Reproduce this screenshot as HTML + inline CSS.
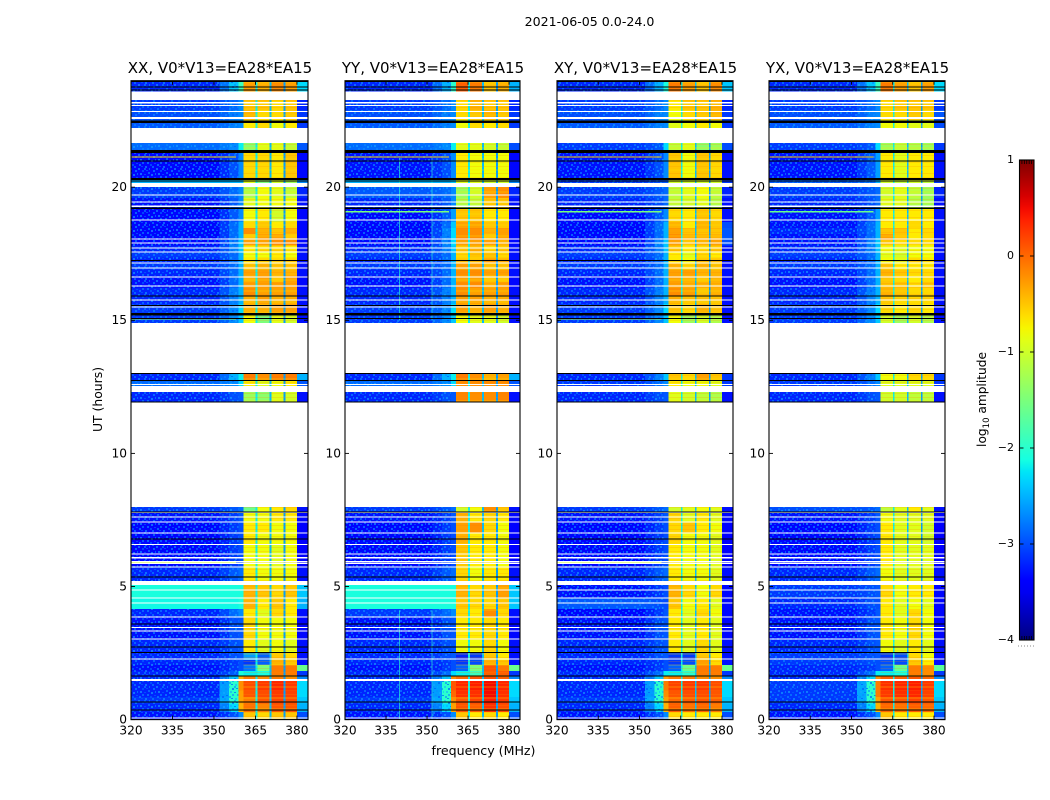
<!DOCTYPE html>
<html lang="en">
<head>
<meta charset="utf-8">
<title>2021-06-05 0.0-24.0</title>
<style>
html,body{margin:0;padding:0;background:#fff;width:1050px;height:800px;overflow:hidden}
svg{display:block}
text{font-family:"DejaVu Sans","Liberation Sans",sans-serif;fill:#000}
</style>
</head>
<body>
<svg id="figure" xmlns="http://www.w3.org/2000/svg" width="1050" height="800" viewBox="0 0 1050 800">
<defs>
<pattern id="speckle" patternUnits="userSpaceOnUse" width="18" height="14">
<rect x="0" y="0" width="2" height="2" fill="#0a8cff" opacity=".6"/><rect x="5" y="0" width="1" height="2" fill="#00b4ff" opacity=".5"/>
<rect x="12" y="0" width="2" height="2" fill="#18a8ff" opacity=".55"/><rect x="2" y="2" width="2" height="1" fill="#0060ff" opacity=".7"/>
<rect x="9" y="2" width="2" height="2" fill="#0a8cff" opacity=".65"/><rect x="16" y="2" width="2" height="2" fill="#0060ff" opacity=".7"/>
<rect x="4" y="4" width="2" height="2" fill="#0a8cff" opacity=".6"/><rect x="11" y="5" width="1" height="2" fill="#00b4ff" opacity=".5"/>
<rect x="14" y="5" width="2" height="2" fill="#18a8ff" opacity=".6"/><rect x="0" y="6" width="2" height="1" fill="#0060ff" opacity=".7"/>
<rect x="7" y="6" width="2" height="2" fill="#18a8ff" opacity=".6"/><rect x="3" y="8" width="2" height="2" fill="#0a8cff" opacity=".65"/>
<rect x="10" y="9" width="2" height="1" fill="#0060ff" opacity=".7"/><rect x="16" y="8" width="2" height="2" fill="#0a8cff" opacity=".6"/>
<rect x="6" y="10" width="2" height="2" fill="#0060ff" opacity=".7"/><rect x="13" y="10" width="2" height="2" fill="#0a8cff" opacity=".65"/>
<rect x="1" y="12" width="2" height="2" fill="#18a8ff" opacity=".55"/><rect x="8" y="12" width="2" height="2" fill="#0a8cff" opacity=".6"/>
<rect x="15" y="12" width="2" height="1" fill="#0060ff" opacity=".7"/>
</pattern>
<pattern id="band-stripes" patternUnits="userSpaceOnUse" width="4" height="11">
<rect x="0" y="1" width="4" height="1" fill="#ff8c00" opacity=".22"/><rect x="0" y="4" width="4" height="2" fill="#ffe600" opacity=".2"/>
<rect x="0" y="8" width="4" height="1" fill="#ff7800" opacity=".2"/>
</pattern>
<linearGradient id="jet-gradient" x1="0" y1="1" x2="0" y2="0"></linearGradient>
</defs>
<text x="589.5" y="26" font-size="12.6" text-anchor="middle">2021-06-05 0.0-24.0</text>
<text x="483.5" y="755" font-size="12.6" text-anchor="middle">frequency (MHz)</text>
<text transform="translate(102,399.5) rotate(-90)" font-size="12.4" text-anchor="middle">UT (hours)</text>
<text transform="translate(986,399.5) rotate(-90)" font-size="12.2" text-anchor="middle">log<tspan font-size="8.5" dy="3">10</tspan><tspan dy="-3"> amplitude</tspan></text>
</svg>
<script>
// UT hour boundaries of the recorded rows, top of plot to bottom
const rowEdges = [24,23.6,22.9,22.52,22.22,21.4,20.34,20,19.6,19.18,18.69,18.47,18.24,18.02,17.8,17.57,17.35,17.13,16.9,16.68,16.44,16.21,15.91,15.61,15.27,14.9,13.02,12.72,12.31,11.93,7.99,7.8,7.42,7.01,6.6,5.73,5.2,4.57,4.15,3.85,3.03,2.54,2.24,2.05,1.83,1.64,1.45,1.1,0.85,0.6,0.28,0];
// Per-row log10 amplitude: [background, ramp, edge, bandA, bandB, bandC, bandD, right]; null = no data
const valuesXX = [
[-3.2,-2.4,-1.9,-0.3,-0.4,-0.2,-0.3,-2.3],[-3.1,-2.85,-2.7,-0.5,-0.5,-0.6,-0.5,-3.2],[-3.0,-2.75,-2.7,-0.4,-0.6,-0.6,-0.5,-3.1],[-2.95,-2.75,-2.7,-0.7,-0.6,-0.8,-0.7,-3.1],
[-2.85,-2.7,-2.2,-1.4,-0.9,-0.9,-1.1,-2.95],[-3.35,-3.0,-2.7,-0.6,-0.6,-0.7,-0.5,-3.35],[-2.5,-2.5,-2.5,-0.9,-1.5,-1.0,-1.3,-2.7],[-3.1,-2.85,-2.7,-1.2,-0.8,-0.9,-1.1,-3.2],
[-3.3,-2.95,-2.7,-0.9,-0.8,-0.8,-0.8,-3.3],[-3.35,-2.95,-2.7,-0.8,-0.7,-1.0,-0.8,-3.35],[-3.35,-2.85,-2.5,-0.6,-0.5,-0.7,-0.6,-3.35],[-3.35,-2.85,-2.5,-0.2,-0.4,-0.5,-0.4,-3.35],
[-3.35,-2.85,-2.5,-0.5,-0.3,-0.3,-0.5,-3.35],[-3.35,-2.75,-2.4,-0.3,-0.3,-0.2,-0.2,-3.35],[-3.2,-2.75,-2.4,-0.7,-0.6,-0.6,-0.7,-3.3],[-3.1,-2.85,-2.5,-0.8,-0.8,-0.7,-0.8,-3.3],
[-3.2,-2.85,-2.5,-0.7,-0.6,-0.6,-0.6,-3.3],[-3.1,-2.85,-2.5,-0.5,-0.4,-0.5,-0.5,-3.3],[-3.2,-2.85,-2.5,-0.3,-0.3,-0.4,-0.4,-3.3],[-3.3,-2.85,-2.5,-0.4,-0.3,-0.5,-0.3,-3.35],
[-3.3,-2.85,-2.5,-0.3,-0.3,-0.3,-0.3,-3.35],[-3.2,-2.75,-2.5,-0.2,-0.3,-0.3,-0.3,-3.3],[-3.2,-2.75,-2.5,-0.4,-0.3,-0.4,-0.4,-3.3],[-3.1,-2.7,-2.3,-0.4,-0.4,-0.3,-0.3,-3.3],
[-3.1,-2.7,-2.4,-0.8,-1.5,-0.9,-1.0,-3.3],null,[-3.2,-2.5,-2.2,-0.1,-0.2,-0.1,-0.1,-2.5],[-2.85,-2.7,-2.3,-0.7,-0.9,-0.8,-0.7,-2.95],
[-3.2,-3.0,-2.95,-1.3,-1.4,-0.9,-1.0,-3.3],null,[-3.1,-2.95,-2.85,-1.6,-0.8,-0.7,-0.6,-3.3],[-3.3,-3.1,-2.95,-0.8,-0.8,-0.7,-0.7,-3.35],
[-3.35,-3.1,-3.0,-0.7,-0.7,-0.8,-0.8,-3.4],[-3.35,-3.1,-3.0,-0.7,-0.8,-0.8,-0.8,-3.4],[-3.35,-3.1,-3.0,-0.8,-0.8,-0.9,-0.8,-3.4],[-3.2,-2.95,-2.85,-0.7,-0.8,-0.8,-0.8,-3.3],
[-2.1,-2.1,-2.1,-0.4,-0.5,-0.6,-0.5,-2.4],[-2.15,-2.15,-2.1,-0.4,-0.7,-0.5,-0.7,-2.5],[-3.2,-2.85,-2.7,-0.7,-0.9,-0.6,-0.7,-3.3],[-3.3,-3.0,-2.95,-0.6,-0.8,-0.8,-0.8,-3.35],
[-3.2,-3.0,-2.95,-0.7,-0.9,-0.8,-0.9,-3.3],[-3.2,-3.0,-2.95,-2.6,-2.9,-0.5,-0.6,-3.3],[-3.2,-3.1,-3.0,-3.1,-2.9,-0.4,-0.5,-3.3],[-3.3,-3.1,-3.0,-2.8,-1.5,-0.1,-0.1,-1.6],
[-3.2,-2.95,-2.1,-2.2,-2.1,-0.1,-0.1,-3.1],[-3.2,-2.4,-0.4,-0.1,-0.2,-0.1,-0.2,-2.7],[-3.2,-2.0,-0.2,0.15,0.25,0.35,0.25,-2.3],[-3.2,-2.0,-0.3,0.1,0.15,0.25,0.2,-2.3],
[-3.1,-2.0,-0.3,-0.1,0.1,0.2,0.15,-2.4],[-3.2,-2.3,-0.4,-0.05,-0.15,0.1,0.1,-2.5],[-3.3,-3.0,-2.7,-0.5,-0.6,-0.5,-0.5,-3.0]
];
const valuesYY = [
[-3.2,-2.5,-2.0,0.05,-0.1,-0.5,-0.4,-2.5],[-3.1,-2.85,-2.7,-0.6,-0.4,-0.5,-0.5,-3.2],[-3.0,-2.75,-2.7,-0.6,-0.5,-0.4,-0.5,-3.1],[-2.95,-2.75,-2.7,-0.8,-0.6,-0.7,-0.6,-3.1],
[-2.85,-2.7,-2.2,-0.9,-0.9,-1.0,-1.1,-3.0],[-3.3,-3.0,-2.7,-0.7,-0.8,-0.8,-0.8,-3.35],[-2.5,-2.5,-2.4,-0.9,-0.9,-1.0,-1.0,-2.7],[-2.95,-2.85,-2.7,-1.3,-1.0,-0.3,-0.2,-3.2],
[-3.2,-2.95,-2.7,-1.2,-1.1,-0.5,-0.5,-3.3],[-3.35,-2.95,-2.6,-0.5,-0.5,-0.7,-0.7,-3.35],[-3.35,-2.85,-2.4,-0.3,-0.3,-0.5,-0.5,-3.35],[-3.35,-2.75,-2.3,-0.2,-0.2,-0.4,-0.3,-3.35],
[-3.35,-2.75,-2.3,-0.2,-0.2,-0.5,-0.3,-3.35],[-3.35,-2.75,-2.3,-0.3,-0.3,-0.3,-0.4,-3.35],[-3.2,-2.75,-2.4,-0.5,-0.4,-0.6,-0.5,-3.3],[-3.1,-2.85,-2.5,-0.6,-0.5,-0.5,-0.6,-3.3],
[-3.2,-2.85,-2.5,-0.5,-0.5,-0.3,-0.4,-3.3],[-3.1,-2.85,-2.5,-0.3,-0.3,-0.5,-0.5,-3.3],[-3.2,-2.85,-2.5,-0.2,-0.2,-0.3,-0.3,-3.3],[-3.3,-2.85,-2.5,-0.3,-0.3,-0.5,-0.5,-3.35],
[-3.3,-2.85,-2.5,-0.2,-0.2,-0.4,-0.3,-3.35],[-3.2,-2.75,-2.5,-0.2,-0.3,-0.3,-0.3,-3.3],[-3.2,-2.75,-2.5,-0.3,-0.3,-0.4,-0.4,-3.3],[-3.1,-2.7,-2.3,-0.3,-0.4,-0.3,-0.4,-3.3],
[-3.1,-2.7,-2.4,-0.8,-0.9,-0.9,-1.0,-3.3],null,[-3.2,-2.5,-2.2,-0.1,-0.2,-0.4,-0.3,-2.5],[-2.85,-2.7,-2.3,-0.2,-0.2,-0.2,-0.2,-2.95],
[-3.2,-3.0,-2.95,-0.15,-0.2,-0.2,-0.15,-3.3],null,[-3.1,-2.95,-2.85,-1.0,-0.8,-0.2,-0.5,-3.3],[-3.3,-3.1,-2.95,-0.4,-0.7,-0.6,-0.7,-3.35],
[-3.35,-3.1,-3.0,-0.3,-0.2,-0.6,-0.8,-3.4],[-3.35,-3.1,-3.0,-0.4,-0.7,-0.7,-0.8,-3.4],[-3.35,-3.1,-3.0,-0.5,-0.7,-0.7,-0.8,-3.4],[-3.2,-2.95,-2.85,-0.6,-0.8,-0.7,-0.7,-3.3],
[-2.1,-2.1,-2.1,-0.4,-0.6,-0.5,-0.3,-2.4],[-2.1,-2.1,-2.1,-0.5,-0.6,-0.6,-0.5,-2.4],[-3.1,-2.85,-2.7,-0.6,-0.7,-0.2,-0.6,-3.3],[-3.3,-3.0,-2.95,-0.7,-0.7,-0.6,-0.7,-3.35],
[-3.2,-3.0,-2.95,-0.8,-0.8,-0.6,-0.8,-3.3],[-3.2,-3.0,-2.95,-3.2,-3.1,-0.5,-0.7,-3.3],[-3.2,-3.1,-3.0,-3.1,-3.0,-0.4,-0.5,-3.3],[-3.3,-3.1,-3.0,-2.9,-1.5,0.1,-0.1,-1.6],
[-3.2,-2.85,-2.3,-2.2,-1.9,0.05,0.05,-3.1],[-3.2,-2.4,-0.2,0.0,0.1,0.15,0.05,-2.7],[-3.2,-2.0,0.1,0.35,0.4,0.5,0.35,-2.3],[-3.2,-2.0,0.0,0.3,0.3,0.5,0.3,-2.3],
[-3.1,-2.0,-0.2,0.1,0.2,0.4,0.25,-2.4],[-3.2,-2.3,-0.3,0.1,0.05,0.3,0.15,-2.5],[-3.3,-3.0,-2.7,-0.5,-0.7,-0.6,-0.7,-3.0]
];
const valuesXY = [
[-3.2,-2.5,-2.1,-0.1,-0.3,-0.5,-0.2,-2.4],[-3.1,-2.85,-2.7,-0.7,-0.5,-0.5,-0.4,-3.2],[-3.0,-2.75,-2.7,-0.8,-0.6,-0.5,-0.4,-3.1],[-2.95,-2.75,-2.7,-0.9,-0.8,-0.7,-0.8,-3.1],
[-3.1,-2.95,-2.3,-1.1,-0.9,-1.4,-1.3,-3.0],[-3.3,-3.0,-2.7,-0.5,-0.8,-0.5,-0.6,-3.3],[-3.1,-3.0,-2.95,-1.0,-1.0,-1.0,-1.0,-3.1],[-3.1,-2.95,-2.85,-1.1,-0.9,-0.8,-1.1,-3.2],
[-3.2,-3.0,-2.85,-1.1,-1.0,-0.9,-1.2,-3.3],[-3.35,-2.95,-2.7,-0.6,-0.7,-0.5,-0.6,-3.3],[-3.35,-2.85,-2.5,-0.4,-0.7,-0.4,-0.5,-3.0],[-3.35,-2.85,-2.5,-0.3,-0.5,-0.5,-0.5,-2.95],
[-3.35,-2.85,-2.5,-0.2,-0.4,-0.4,-0.4,-2.95],[-3.35,-2.75,-2.4,-0.3,-0.5,-0.4,-0.3,-3.0],[-3.2,-2.75,-2.4,-0.5,-0.7,-0.6,-0.5,-3.3],[-3.1,-2.85,-2.5,-0.7,-0.9,-0.6,-0.7,-3.3],
[-3.2,-2.85,-2.5,-0.7,-0.8,-0.5,-0.5,-3.3],[-3.1,-2.85,-2.5,-0.4,-0.6,-0.4,-0.5,-3.3],[-3.2,-2.85,-2.5,-0.3,-0.3,-0.4,-0.4,-3.3],[-3.3,-2.85,-2.5,-0.3,-0.4,-0.5,-0.4,-3.35],
[-3.3,-2.85,-2.5,-0.3,-0.4,-0.4,-0.4,-3.35],[-3.2,-2.75,-2.5,-0.2,-0.3,-0.5,-0.4,-3.3],[-3.2,-2.75,-2.5,-0.4,-0.5,-0.5,-0.5,-3.3],[-3.1,-2.7,-2.3,-0.5,-0.6,-0.4,-0.5,-3.3],
[-3.1,-2.7,-2.4,-0.8,-1.3,-1.0,-1.2,-3.3],null,[-3.2,-2.75,-2.4,-0.5,-0.6,-0.3,-0.5,-3.1],[-3.1,-2.85,-2.7,-0.7,-0.8,-0.8,-0.9,-3.1],
[-3.2,-3.0,-2.95,-0.9,-1.0,-1.1,-1.2,-3.3],null,[-3.1,-2.95,-2.85,-1.0,-0.9,-0.8,-0.9,-3.3],[-3.3,-3.1,-2.95,-0.6,-0.9,-0.7,-0.9,-3.35],
[-3.35,-3.1,-3.0,-0.6,-0.5,-0.7,-0.8,-3.4],[-3.35,-3.1,-3.0,-0.6,-0.8,-0.8,-0.9,-3.4],[-3.35,-3.1,-3.0,-0.7,-0.8,-0.8,-0.9,-3.4],[-3.2,-2.95,-2.85,-0.7,-0.8,-0.8,-0.9,-3.3],
[-3.3,-3.1,-3.0,-0.4,-0.6,-0.8,-0.6,-3.35],[-2.95,-3.0,-3.0,-0.5,-0.8,-0.7,-0.9,-3.35],[-3.35,-3.1,-2.95,-0.7,-0.9,-0.6,-0.8,-3.35],[-3.3,-3.0,-2.95,-0.7,-0.9,-0.7,-0.9,-3.35],
[-3.2,-3.0,-2.95,-0.7,-0.9,-0.6,-0.9,-3.3],[-3.2,-3.0,-2.95,-3.1,-3.1,-0.5,-0.7,-3.3],[-3.2,-3.1,-3.0,-3.1,-3.0,-0.3,-0.6,-3.3],[-3.3,-3.1,-3.0,-2.9,-1.6,-0.1,-0.1,-1.6],
[-3.2,-2.85,-2.2,-2.2,-2.0,-0.1,-0.1,-3.1],[-3.2,-2.4,-0.3,-0.1,-0.1,-0.2,-0.2,-2.7],[-3.2,-2.0,-0.1,0.2,0.25,0.25,0.15,-2.3],[-3.2,-2.0,-0.2,0.1,0.15,0.15,0.1,-2.3],
[-3.1,-2.0,-0.3,0.0,0.05,0.1,0.05,-2.4],[-3.2,-2.3,-0.4,0.05,-0.05,0.0,-0.1,-2.5],[-3.3,-3.0,-2.7,-0.6,-0.7,-0.7,-0.7,-3.0]
];
const valuesYX = [
[-3.2,-2.4,-1.9,-0.1,-0.3,-0.5,-0.3,-2.3],[-3.1,-2.85,-2.7,-0.6,-0.5,-0.5,-0.5,-3.1],[-3.0,-2.75,-2.7,-0.6,-0.6,-0.5,-0.6,-2.95],[-2.95,-2.75,-2.7,-0.8,-0.8,-0.9,-0.9,-3.0],
[-3.1,-2.95,-2.3,-1.3,-1.1,-1.2,-1.3,-3.1],[-3.3,-2.95,-2.6,-0.7,-0.9,-0.7,-0.7,-3.3],[-2.95,-2.85,-2.5,-1.0,-1.1,-1.0,-1.1,-3.1],[-3.1,-2.95,-2.85,-1.0,-0.9,-1.1,-1.3,-3.2],
[-3.2,-3.0,-2.85,-0.9,-0.9,-1.2,-1.3,-3.3],[-3.3,-2.95,-2.6,-0.7,-0.7,-0.7,-0.7,-3.3],[-3.3,-2.85,-2.5,-0.7,-0.7,-0.6,-0.7,-3.3],[-3.2,-2.85,-2.5,-0.5,-0.5,-0.7,-0.6,-3.3],
[-3.3,-2.85,-2.5,-0.3,-0.5,-0.7,-0.6,-3.3],[-3.3,-2.75,-2.4,-0.5,-0.6,-0.6,-0.6,-3.3],[-3.2,-2.75,-2.4,-0.8,-0.9,-0.8,-0.8,-3.3],[-3.1,-2.85,-2.5,-0.9,-1.0,-0.8,-0.8,-3.3],
[-3.2,-2.85,-2.5,-0.8,-0.9,-0.6,-0.7,-3.3],[-3.1,-2.85,-2.5,-0.5,-0.7,-0.7,-0.7,-3.3],[-3.2,-2.85,-2.5,-0.4,-0.5,-0.6,-0.6,-3.3],[-3.3,-2.85,-2.5,-0.5,-0.6,-0.7,-0.6,-3.35],
[-3.3,-2.85,-2.5,-0.5,-0.5,-0.6,-0.5,-3.35],[-3.2,-2.75,-2.5,-0.4,-0.5,-0.6,-0.6,-3.3],[-3.2,-2.75,-2.5,-0.5,-0.6,-0.6,-0.6,-3.3],[-3.1,-2.7,-2.3,-0.6,-0.7,-0.6,-0.7,-3.3],
[-3.1,-2.7,-2.4,-1.0,-1.3,-1.0,-1.2,-3.3],null,[-3.2,-2.75,-2.4,-0.8,-0.8,-0.6,-0.6,-3.1],[-3.1,-2.85,-2.7,-0.9,-0.9,-0.9,-0.9,-3.1],
[-3.2,-3.0,-2.95,-1.0,-1.0,-1.1,-1.1,-3.3],null,[-3.0,-2.95,-2.85,-1.1,-0.9,-0.7,-0.9,-3.3],[-3.3,-3.1,-2.95,-0.8,-0.9,-0.9,-0.9,-3.35],
[-3.35,-3.1,-3.0,-0.7,-0.9,-0.9,-1.0,-3.4],[-3.35,-3.1,-3.0,-0.7,-0.9,-0.9,-1.0,-3.4],[-3.35,-3.1,-3.0,-0.7,-0.9,-0.9,-0.9,-3.4],[-3.2,-2.95,-2.85,-0.8,-0.9,-0.9,-0.9,-3.3],
[-3.1,-3.0,-2.95,-0.6,-0.8,-0.7,-0.7,-3.35],[-3.2,-3.0,-3.0,-0.7,-0.9,-0.8,-0.9,-3.35],[-3.3,-3.1,-2.95,-0.7,-0.9,-0.6,-0.8,-3.35],[-3.3,-3.0,-2.95,-0.7,-0.8,-0.6,-0.8,-3.35],
[-3.2,-3.0,-2.95,-0.8,-0.9,-0.7,-0.9,-3.3],[-3.1,-3.0,-2.95,-3.1,-3.0,-0.6,-0.8,-3.3],[-3.1,-3.0,-3.0,-3.0,-3.0,-0.5,-0.7,-3.3],[-3.2,-3.1,-3.0,-2.9,-1.6,-0.1,-0.2,-1.7],
[-3.2,-2.85,-2.2,-2.2,-2.1,-0.1,-0.2,-3.1],[-3.2,-2.3,-0.2,0.05,0.05,0.1,0.0,-2.7],[-3.1,-2.0,-0.1,0.3,0.35,0.4,0.25,-2.3],[-3.1,-2.0,-0.1,0.25,0.3,0.35,0.2,-2.3],
[-3.1,-2.0,-0.3,0.1,0.1,0.2,0.1,-2.4],[-3.2,-2.3,-0.4,0.0,-0.05,0.05,0.0,-2.5],[-3.3,-3.0,-2.7,-0.5,-0.7,-0.7,-0.7,-3.0]
];
// Levels of the three narrow notches between the bands (log10 amplitude)
const notchLevels = [-2.2,-2.45,-2.6];
// Flagged (blank) time intervals [hourStart, hourEnd]
const blankHours = [[23.6,23.27],[23.2,23.14],[23.09,23.05],[22.86,22.83],[22.64,22.57],[22.22,21.66],[20.16,20.0],[19.73,19.69],[19.47,19.43],[19.31,19.26],[18.78,18.74],[18.07,18.03],[17.92,17.88],[17.74,17.7],[17.59,17.55],[17.17,17.13],[16.99,16.95],[16.65,16.61],[16.31,16.27],[15.78,15.74],[15.52,15.48],[12.6,12.57],[12.54,12.51],[12.49,12.31],[7.8,7.76],[7.63,7.59],[7.44,7.4],[7.03,6.99],[6.6,6.56],[6.24,6.2],[6.1,6.06],[5.95,5.91],[5.89,5.85],[5.76,5.72],[5.2,5.06],[4.89,4.85],[4.59,4.55],[4.4,4.36],[3.87,3.83],[3.48,3.44],[3.35,3.31],[3.05,3.01],[2.3,2.26],[1.53,1.45],[0.08,0.04]];
// Dead integrations drawn in black [hourStart, hourEnd]
const deadHours = [[24,23.95],[23.78,23.74],[23.67,23.63],[22.5,22.41],[21.4,21.29],[21.0,20.96],[20.35,20.27],[20.25,20.21],[19.24,19.18],[17.26,17.22],[15.93,15.89],[15.58,15.54],[15.27,15.18],[15.09,15.05],[13.02,12.98],[12.76,12.72],[11.95,11.91],[7.82,7.78],[6.8,6.76],[5.38,5.34],[3.61,3.57],[2.75,2.71],[2.54,2.5],[1.66,1.62],[0.68,0.64],[0.38,0.34]];
// Narrow bright RFI traces across the low band: [hour, XX, YY, XY, YX]
const hotTraces = [[21.16,-0.6,-0.6,-0.5,-0.5],[19.1,-3,-1.5,-1.5,-1.6],[15.08,-1.4,-3,-1.2,-3],[5.9,-1.0,-3,-1.0,-3]];
// Persistent RFI frequencies in the YY panel (MHz) and their time spans
const rfiFreqs = [339.8,351.7];
const rfiSpans = [[21.1,15.0],[4.1,0.0]];
const freqTicks = [320,335,350,365,380];
const hourTicks = [0,5,10,15,20];
const panelNames = ["XX","YY","XY","YX"];
const panelTitles = ["XX, V0*V13=EA28*EA15","YY, V0*V13=EA28*EA15","XY, V0*V13=EA28*EA15","YX, V0*V13=EA28*EA15"];
const panelValues = [valuesXX,valuesYY,valuesXY,valuesYX];
const colorbarTicks = [1,0,-1,-2,-3,-4];
const tickLabelsBar = ["1","0","\u22121","\u22122","\u22123","\u22124"];

const NS = "http://www.w3.org/2000/svg";
const svg = document.getElementById("figure");
const gradient = document.getElementById("jet-gradient");

function piece(points,t){
  for(let i=1;i<points.length;i++){
    if(t<=points[i][0]){
      const a=points[i-1],b=points[i];
      return a[1]+(b[1]-a[1])*(t-a[0])/(b[0]-a[0]);
    }
  }
  return points[points.length-1][1];
}
function jet(t){
  t=Math.max(0,Math.min(1,t));
  const r=piece([[0,0],[.35,0],[.66,1],[.89,1],[1,.5]],t);
  const g=piece([[0,0],[.125,0],[.375,1],[.64,1],[.91,0],[1,0]],t);
  const b=piece([[0,.5],[.11,1],[.34,1],[.65,0],[1,0]],t);
  return "rgb("+Math.round(r*255)+","+Math.round(g*255)+","+Math.round(b*255)+")";
}
function colorOf(v){return jet((v+4)/5);}
function el(tag,parent,props){
  const node=document.createElementNS(NS,tag);
  for(const k in props){node.setAttribute(k,props[k]);}
  parent.appendChild(node);
  return node;
}
const yTop=80.7, yBottom=719.6;
function yOf(h){return yBottom-(h/24)*(yBottom-yTop);}
function xScale(left,right){return f=>left+(f-320)/64*(right-left);}

function hBand(parent,xs,h0,h1,fill,name){
  const y0=yOf(h0), y1=yOf(h1);
  const node=el("rect",parent,{x:xs(320),y:y0,width:xs(384)-xs(320),height:Math.max(y1-y0,1),fill:fill,"shape-rendering":"crispEdges"});
  
  
  return node;
}

function drawPanel(index,left,right){
  const xs=xScale(left,right);
  const values=panelValues[index];
  const panelName=panelNames[index];
  const g=el("g",svg,{});
  
  
  const cells=el("g",g,{});
  
  
  values.forEach((row,r)=>{
    if(!row)return;
    const [bg,ramp,edge,a,b,c,d,rightLevel]=row;
    const columns=[[320,352,bg],[352,355.5,(bg+ramp)/2],[355.5,358.8,ramp],[358.8,360.6,edge],[360.6,365,a],[365,365.7,notchLevels[0]],[365.7,370.1,b],[370.1,370.8,notchLevels[1]],[370.8,375.2,c],[375.2,375.9,notchLevels[2]],[375.9,380,d],[380,384,rightLevel]];
    const y0=yOf(rowEdges[r]),y1=yOf(rowEdges[r+1]);
    columns.forEach(col=>{
      const cell=el("rect",cells,{x:xs(col[0]),y:y0,width:xs(col[1])-xs(col[0]),height:y1-y0,fill:colorOf(col[2]),"shape-rendering":"crispEdges"});
      
      
    });
    if(bg<-2.6){
      const tex=el("rect",cells,{x:xs(320),y:y0,width:xs(358.8)-xs(320),height:y1-y0,fill:"url(#speckle)","shape-rendering":"crispEdges"});
      
      
    }
    const stripes=el("rect",cells,{x:xs(360.6),y:y0,width:xs(380)-xs(360.6),height:y1-y0,fill:"url(#band-stripes)","shape-rendering":"crispEdges"});
    
    
  });
  if(panelName==="YY"){
    rfiFreqs.forEach(f=>rfiSpans.forEach(span=>{
      const line=el("rect",g,{x:xs(f),y:yOf(span[0]),width:1,height:yOf(span[1])-yOf(span[0]),fill:colorOf(-2.0),opacity:.65,"shape-rendering":"crispEdges"});
      
      
    }));
  }
  hotTraces.forEach(trace=>{
    const level=trace[index+1];
    if(level<=-2)return;
    const y=yOf(trace[0]);
    const line=el("rect",g,{x:xs(320),y:y,width:xs(358)-xs(320),height:1.2,fill:colorOf(level),"shape-rendering":"crispEdges"});
    
    
  });
  blankHours.forEach(s=>hBand(g,xs,s[0],s[1],"#fff","flagged-interval"));
  deadHours.forEach(s=>hBand(g,xs,s[0],s[1],"#000","dead-interval"));
  const frame=el("rect",g,{x:left,y:yTop,width:right-left,height:yBottom-yTop,fill:"none",stroke:"#000","stroke-width":1.1});
  
  
  freqTicks.forEach(f=>{
    const x=xs(f);
    [[yBottom,yBottom-4],[yTop,yTop+4]].forEach(pair=>{
      const tick=el("line",g,{x1:x,x2:x,y1:pair[0],y2:pair[1],stroke:"#000","stroke-width":.9});
      
      
    });
    const label=el("text",g,{x:x,y:yBottom+15,"font-size":12.2,"text-anchor":"middle"});
    
    
    label.textContent=String(f);
  });
  hourTicks.forEach(h=>{
    const y=yOf(h);
    [[left,left+4],[right,right-4]].forEach(pair=>{
      const tick=el("line",g,{x1:pair[0],x2:pair[1],y1:y,y2:y,stroke:"#000","stroke-width":.9});
      
      
    });
    const label=el("text",g,{x:left-4,y:y+3.9,"font-size":12.2,"text-anchor":"end"});
    
    
    label.textContent=String(h);
  });
  const title=el("text",g,{x:(left+right)/2+0.5,y:73,"font-size":15,"text-anchor":"middle"});
  
  
  title.textContent=panelTitles[index];
}

drawPanel(0,131,308);
drawPanel(1,345,520);
drawPanel(2,557,733);
drawPanel(3,769,945);

// colorbar
for(let i=0;i<=40;i++){
  el("stop",gradient,{offset:(i/40*100)+"%","stop-color":jet(i/40)});
}
const barG=el("g",svg,{});


const barL=1019.5,barR=1034,barT=160,barB=640;
function barY(v){return barB-(v+4)/5*(barB-barT);}
const bar=el("rect",barG,{x:barL,y:barT,width:barR-barL,height:barB-barT,fill:"url(#jet-gradient)",stroke:"#000","stroke-width":1.1});


colorbarTicks.forEach((v,i)=>{
  const y=barY(v);
  if(v<1&&v>-4){
    [[barL,barL+4],[barR,barR-4]].forEach(pair=>{
      const tick=el("line",barG,{x1:pair[0],x2:pair[1],y1:y,y2:y,stroke:"#000","stroke-width":.9});
      
      
    });
  }
  const label=el("text",barG,{x:1014,y:y+3.2,"font-size":11,"text-anchor":"end"});
  
  
  label.textContent=tickLabelsBar[i];
});
for(let i=1;i<6;i++){
  const x=barL+(barR-barL)*i/6;
  [[barT,barT+4],[barB,barB-4]].forEach(pair=>{
    const tick=el("line",barG,{x1:x,x2:x,y1:pair[0],y2:pair[1],stroke:"#000","stroke-width":.8});
    
    
  });
}
for(let i=0;i<6;i++){
  const dot=el("rect",barG,{x:1018+i*3,y:645.5,width:1,height:1,fill:"#888"});
  
  
}
</script>
</body>
</html>
